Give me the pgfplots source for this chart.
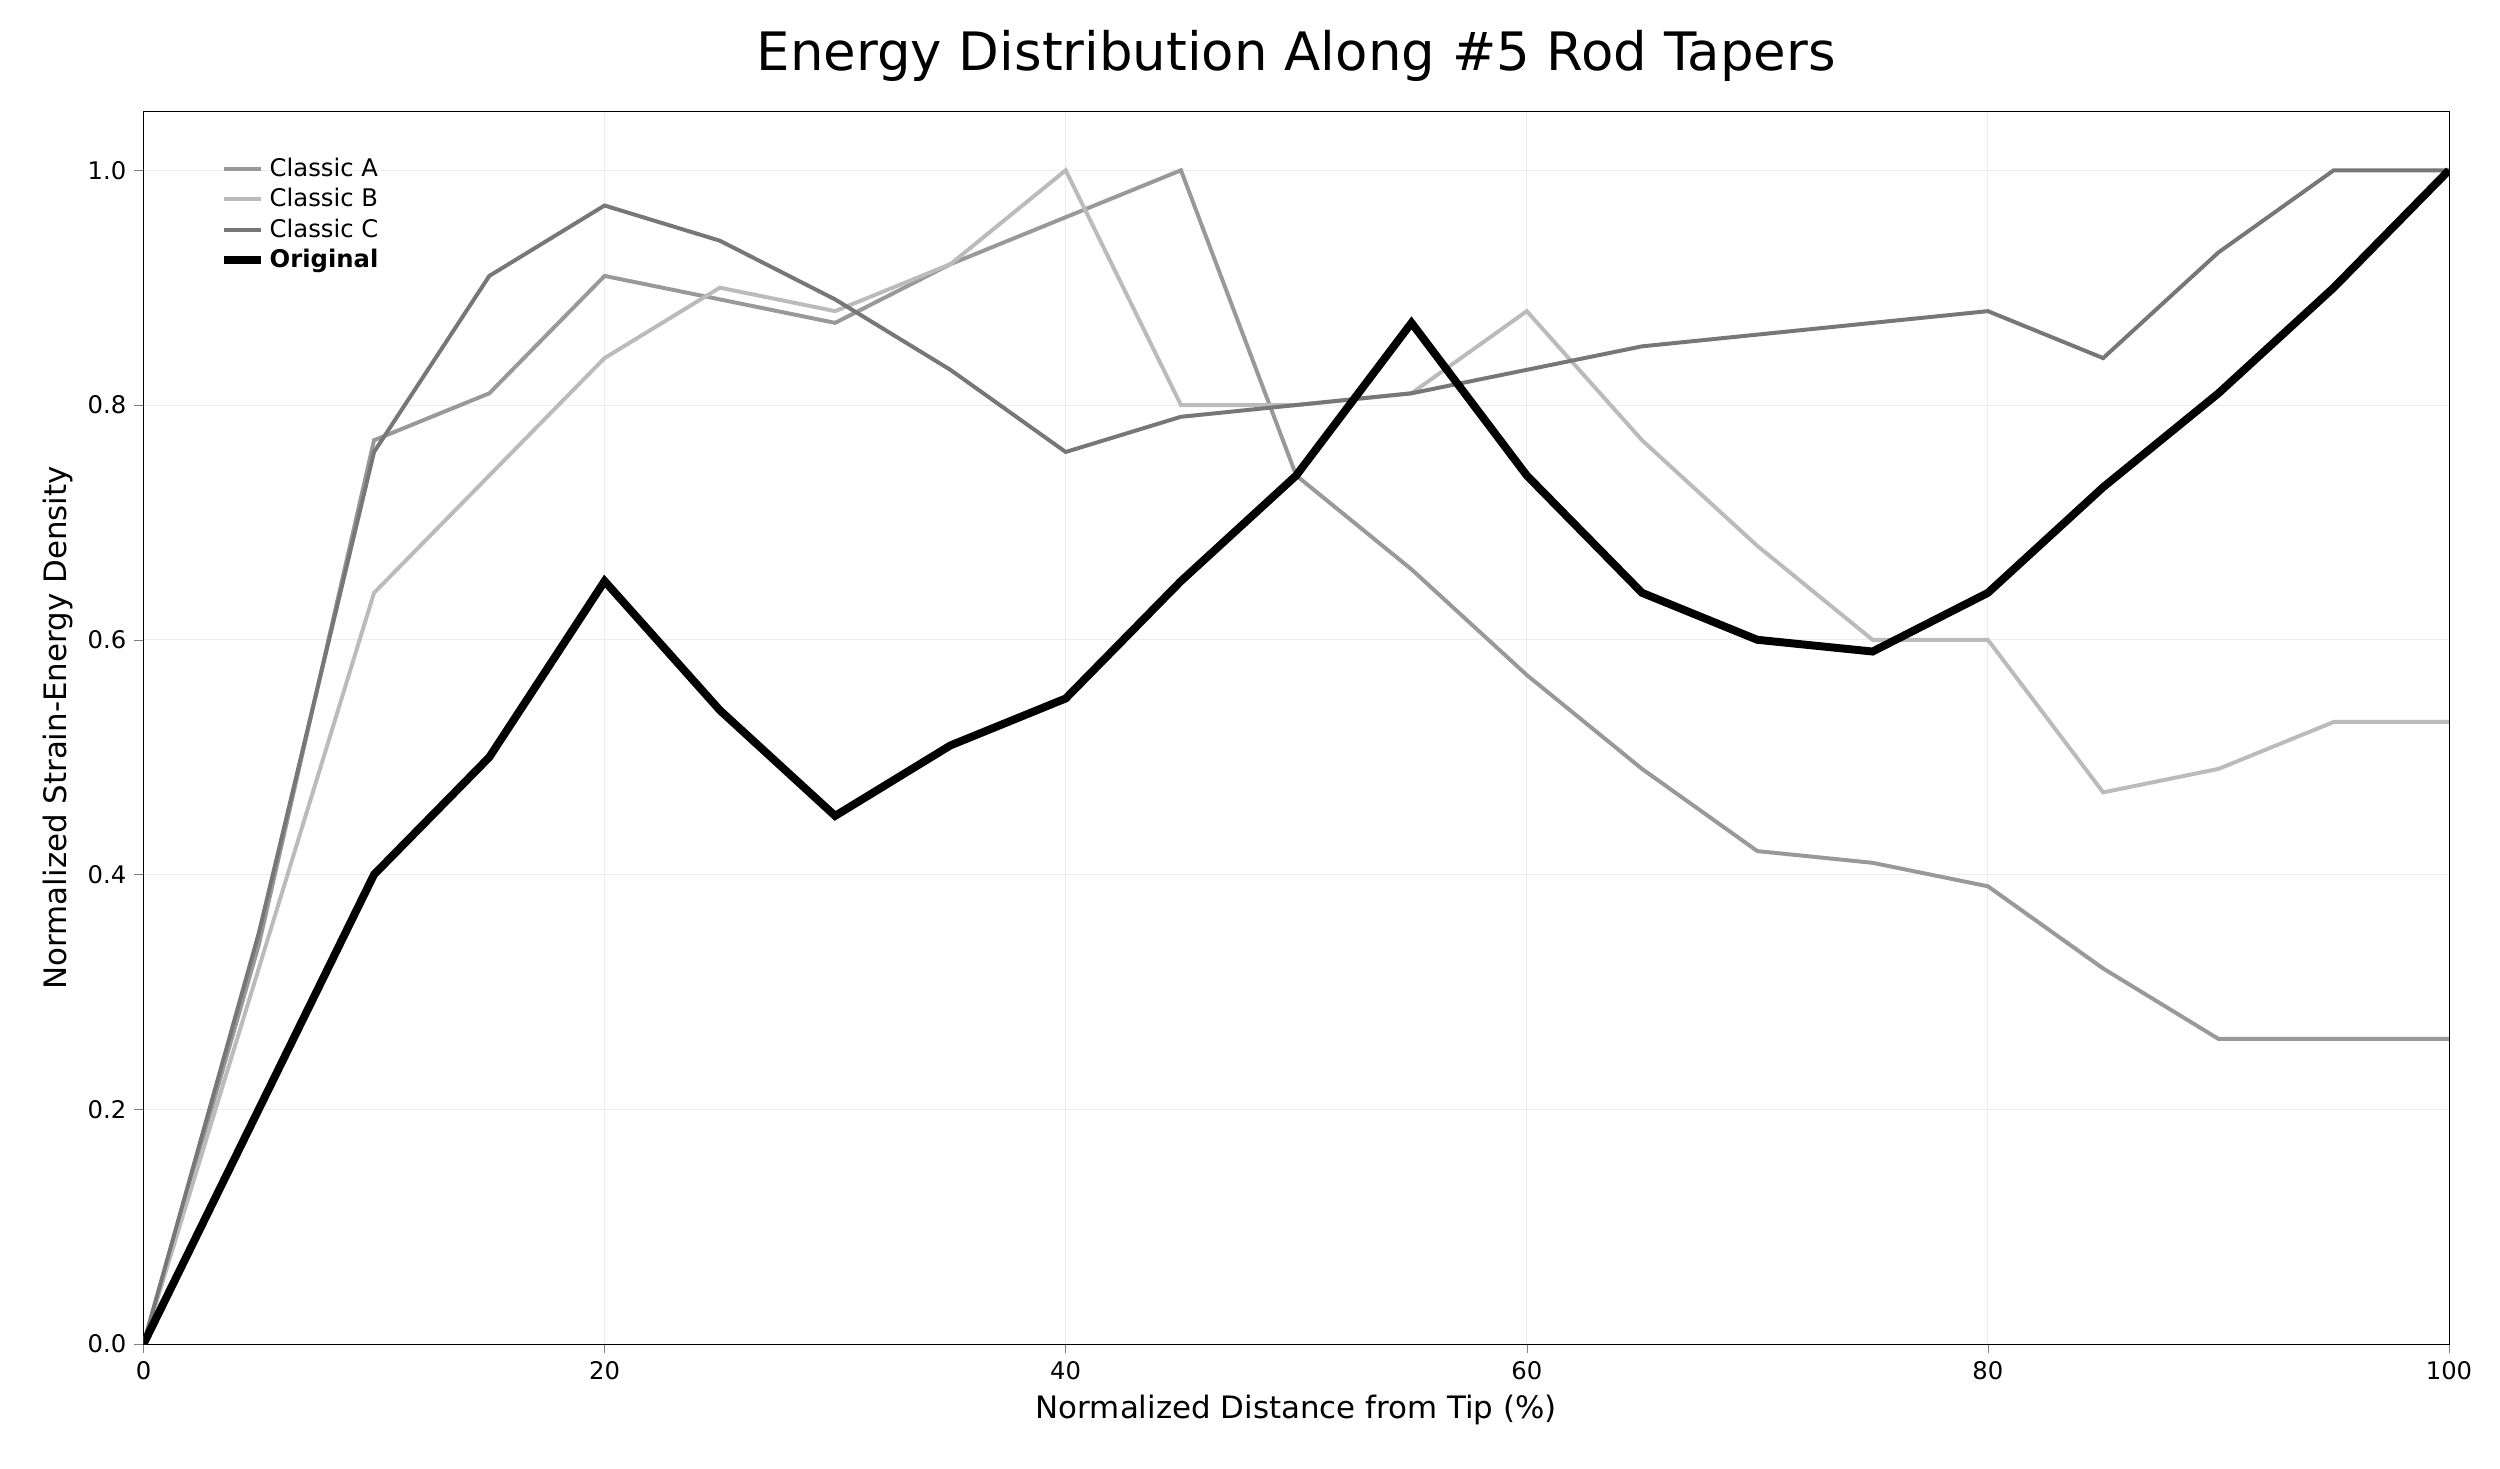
\documentclass[border=0pt]{standalone}
\usepackage{pgfplots}
\pgfplotsset{compat=1.18}
\usepackage{fontspec}
\setmainfont{DejaVu Sans}
\definecolor{ca}{HTML}{999999}
\definecolor{cb}{HTML}{BBBBBB}
\definecolor{cc}{HTML}{777777}
\begin{document}
\begin{tikzpicture}
\path (-0.9in,-0.78in) rectangle (14.78in,8.43in);
\begin{axis}[scale only axis, width=14.46in, height=7.73in,
 xmin=0, xmax=100, ymin=0, ymax=1.05,
 xtick={0,20,...,100}, ytick={0,0.2,...,1.0},
 yticklabel style={/pgf/number format/fixed,/pgf/number format/fixed zerofill,/pgf/number format/precision=1},
 /pgf/number format/assume math mode=true,
 ticklabel style={font=\fontsize{11}{13}\selectfont},
 grid=major, grid style={gray!15},
 tick align=outside, tick pos=left,
 xlabel={Normalized Distance from Tip (\%)}, ylabel={Normalized Strain-Energy Density},
 label style={font=\fontsize{14}{16}\selectfont},
 title={Energy Distribution Along \#5 Rod Tapers},
 title style={font=\fontsize{24}{28}\selectfont, yshift=4pt},
 legend pos=north west, legend style={draw=none, fill=none, font=\fontsize{11}{14}\selectfont},
 legend cell align=left,
]
\addplot[ca, line width=1.8pt] coordinates {(0,0)(5,0.34)(10,0.77)(15,0.81)(20,0.91)(25,0.89)(30,0.87)(35,0.92)(40,0.96)(45,1.0)(50,0.74)(55,0.66)(60,0.57)(65,0.49)(70,0.42)(75,0.41)(80,0.39)(85,0.32)(90,0.26)(95,0.26)(100,0.26)};
\addlegendentry{Classic A}
\addplot[cb, line width=1.8pt] coordinates {(0,0)(5,0.32)(10,0.64)(15,0.74)(20,0.84)(25,0.90)(30,0.88)(35,0.92)(40,1.0)(45,0.80)(50,0.80)(55,0.81)(60,0.88)(65,0.77)(70,0.68)(75,0.60)(80,0.60)(85,0.47)(90,0.49)(95,0.53)(100,0.53)};
\addlegendentry{Classic B}
\addplot[cc, line width=1.8pt] coordinates {(0,0)(5,0.35)(10,0.76)(15,0.91)(20,0.97)(25,0.94)(30,0.89)(35,0.83)(40,0.76)(45,0.79)(50,0.80)(55,0.81)(60,0.83)(65,0.85)(70,0.86)(75,0.87)(80,0.88)(85,0.84)(90,0.93)(95,1.0)(100,1.0)};
\addlegendentry{Classic C}
\addplot[black, line width=3.6pt] coordinates {(0,0)(5,0.2)(10,0.4)(15,0.5)(20,0.65)(25,0.54)(30,0.45)(35,0.51)(40,0.55)(45,0.65)(50,0.74)(55,0.87)(60,0.74)(65,0.64)(70,0.60)(75,0.59)(80,0.64)(85,0.73)(90,0.81)(95,0.90)(100,1.0)};
\addlegendentry{\textbf{Original}}
\end{axis}
\end{tikzpicture}
\end{document}
